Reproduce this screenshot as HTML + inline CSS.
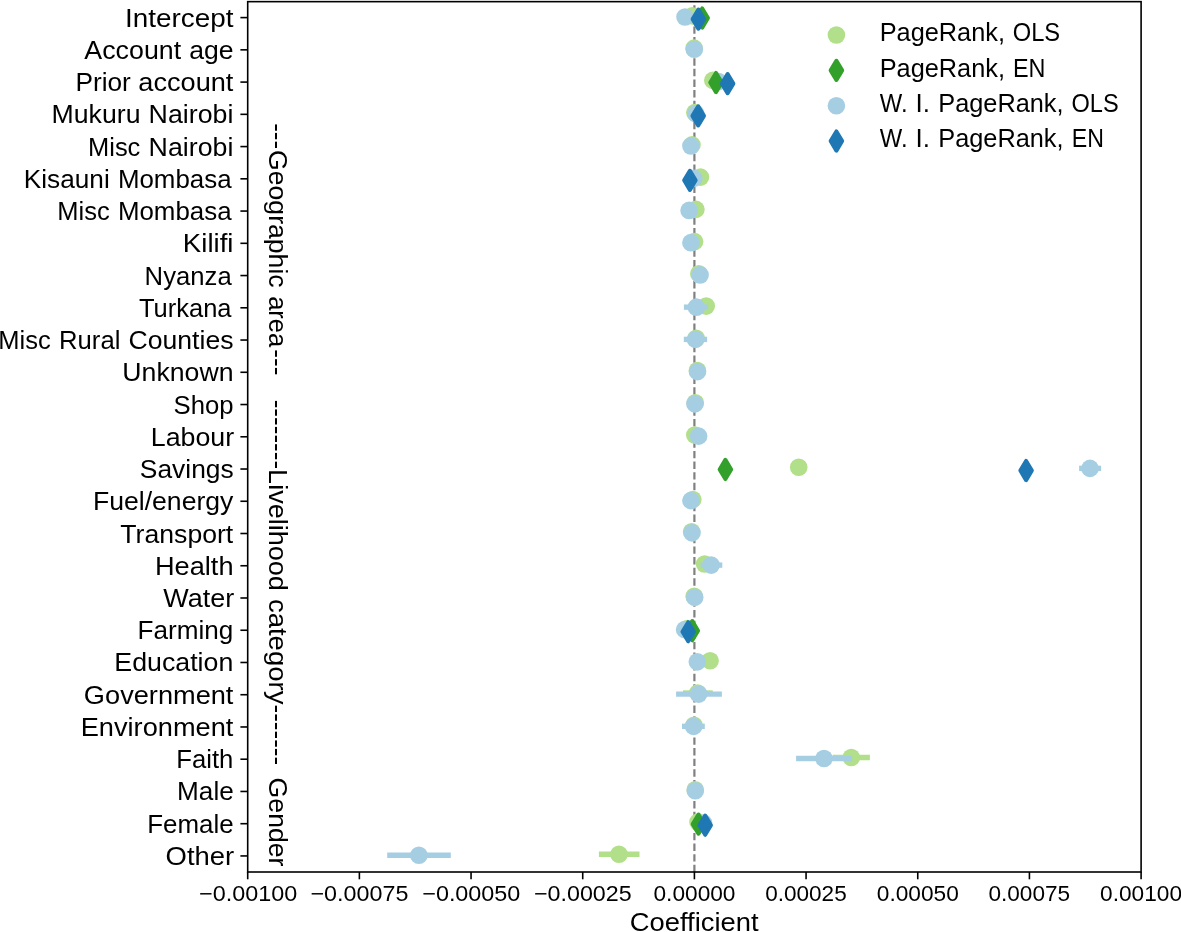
<!DOCTYPE html>
<html lang="en"><head><meta charset="utf-8"><title>Coefficient plot</title>
<style>html,body{margin:0;padding:0;background:#fff}body{width:1181px;height:932px;overflow:hidden}svg{display:block;will-change:transform}text{font-family:"Liberation Sans",sans-serif;fill:#000}</style></head><body>
<svg width="1181" height="932" viewBox="0 0 1181 932">
<rect x="0" y="0" width="1181" height="932" fill="#fff"/>
<line x1="694.40" y1="1.65" x2="694.40" y2="872.0" stroke="#808080" stroke-width="2.2" stroke-dasharray="7.4 3.212" stroke-dashoffset="7.06"/>
<g id="data">
<circle cx="692.30" cy="15.89" r="8.8" fill="#b2df8a"/>
<circle cx="694.10" cy="48.13" r="8.8" fill="#b2df8a"/>
<circle cx="712.80" cy="80.38" r="8.8" fill="#b2df8a"/>
<circle cx="694.80" cy="112.62" r="8.8" fill="#b2df8a"/>
<circle cx="692.00" cy="144.87" r="8.8" fill="#b2df8a"/>
<circle cx="700.50" cy="177.11" r="8.8" fill="#b2df8a"/>
<circle cx="695.90" cy="209.35" r="8.8" fill="#b2df8a"/>
<circle cx="694.60" cy="241.60" r="8.8" fill="#b2df8a"/>
<circle cx="698.80" cy="273.84" r="8.8" fill="#b2df8a"/>
<circle cx="706.20" cy="306.09" r="8.8" fill="#b2df8a"/>
<circle cx="696.20" cy="338.33" r="8.8" fill="#b2df8a"/>
<circle cx="697.40" cy="370.57" r="8.8" fill="#b2df8a"/>
<circle cx="695.30" cy="402.82" r="8.8" fill="#b2df8a"/>
<circle cx="694.80" cy="435.06" r="8.8" fill="#b2df8a"/>
<circle cx="798.70" cy="467.31" r="8.8" fill="#b2df8a"/>
<circle cx="692.80" cy="499.55" r="8.8" fill="#b2df8a"/>
<circle cx="691.60" cy="531.79" r="8.8" fill="#b2df8a"/>
<circle cx="704.60" cy="564.04" r="8.8" fill="#b2df8a"/>
<circle cx="694.20" cy="596.28" r="8.8" fill="#b2df8a"/>
<circle cx="687.50" cy="628.53" r="8.8" fill="#b2df8a"/>
<circle cx="710.10" cy="660.77" r="8.8" fill="#b2df8a"/>
<line x1="683.00" y1="693.01" x2="712.80" y2="693.01" stroke="#b2df8a" stroke-width="5.4"/>
<circle cx="697.70" cy="693.01" r="8.8" fill="#b2df8a"/>
<circle cx="694.00" cy="725.26" r="8.8" fill="#b2df8a"/>
<line x1="832.70" y1="757.50" x2="869.90" y2="757.50" stroke="#b2df8a" stroke-width="5.4"/>
<circle cx="851.30" cy="757.50" r="8.8" fill="#b2df8a"/>
<circle cx="695.20" cy="789.75" r="8.8" fill="#b2df8a"/>
<circle cx="698.00" cy="821.99" r="8.8" fill="#b2df8a"/>
<line x1="598.90" y1="854.23" x2="639.50" y2="854.23" stroke="#b2df8a" stroke-width="5.4"/>
<circle cx="619.00" cy="854.23" r="8.8" fill="#b2df8a"/>
<circle cx="685.00" cy="16.96" r="8.8" fill="#a6cee3"/>
<circle cx="694.30" cy="49.20" r="8.8" fill="#a6cee3"/>
<circle cx="718.50" cy="81.45" r="8.8" fill="#a6cee3"/>
<circle cx="695.80" cy="113.69" r="8.8" fill="#a6cee3"/>
<circle cx="690.90" cy="145.94" r="8.8" fill="#a6cee3"/>
<circle cx="693.80" cy="178.18" r="8.8" fill="#a6cee3"/>
<circle cx="689.10" cy="210.42" r="8.8" fill="#a6cee3"/>
<circle cx="690.90" cy="242.67" r="8.8" fill="#a6cee3"/>
<circle cx="700.10" cy="274.91" r="8.8" fill="#a6cee3"/>
<line x1="683.90" y1="307.16" x2="708.10" y2="307.16" stroke="#a6cee3" stroke-width="5.4"/>
<circle cx="696.40" cy="307.16" r="8.8" fill="#a6cee3"/>
<line x1="683.80" y1="339.40" x2="707.10" y2="339.40" stroke="#a6cee3" stroke-width="5.4"/>
<circle cx="695.50" cy="339.40" r="8.8" fill="#a6cee3"/>
<circle cx="697.50" cy="371.64" r="8.8" fill="#a6cee3"/>
<circle cx="694.90" cy="403.89" r="8.8" fill="#a6cee3"/>
<circle cx="698.60" cy="436.13" r="8.8" fill="#a6cee3"/>
<line x1="1079.10" y1="468.38" x2="1101.10" y2="468.38" stroke="#a6cee3" stroke-width="5.4"/>
<circle cx="1090.00" cy="468.38" r="8.8" fill="#a6cee3"/>
<circle cx="690.90" cy="500.62" r="8.8" fill="#a6cee3"/>
<circle cx="692.00" cy="532.86" r="8.8" fill="#a6cee3"/>
<line x1="700.60" y1="565.11" x2="722.30" y2="565.11" stroke="#a6cee3" stroke-width="5.4"/>
<circle cx="711.20" cy="565.11" r="8.8" fill="#a6cee3"/>
<circle cx="694.70" cy="597.35" r="8.8" fill="#a6cee3"/>
<circle cx="684.60" cy="629.60" r="8.8" fill="#a6cee3"/>
<circle cx="697.30" cy="661.84" r="8.8" fill="#a6cee3"/>
<line x1="676.10" y1="694.08" x2="721.90" y2="694.08" stroke="#a6cee3" stroke-width="5.4"/>
<circle cx="698.70" cy="694.08" r="8.8" fill="#a6cee3"/>
<line x1="682.00" y1="726.33" x2="704.80" y2="726.33" stroke="#a6cee3" stroke-width="5.4"/>
<circle cx="693.60" cy="726.33" r="8.8" fill="#a6cee3"/>
<line x1="796.10" y1="758.57" x2="852.10" y2="758.57" stroke="#a6cee3" stroke-width="5.4"/>
<circle cx="824.00" cy="758.57" r="8.8" fill="#a6cee3"/>
<circle cx="695.30" cy="790.82" r="8.8" fill="#a6cee3"/>
<circle cx="703.50" cy="823.06" r="8.8" fill="#a6cee3"/>
<line x1="387.20" y1="855.30" x2="450.80" y2="855.30" stroke="#a6cee3" stroke-width="5.4"/>
<circle cx="418.90" cy="855.30" r="8.8" fill="#a6cee3"/>
<path d="M702.20 8.47L707.94 18.04L702.20 27.61L696.46 18.04Z" fill="#33a02c" stroke="#33a02c" stroke-width="4.05" stroke-linejoin="round"/>
<path d="M716.00 72.96L721.74 82.53L716.00 92.10L710.26 82.53Z" fill="#33a02c" stroke="#33a02c" stroke-width="4.05" stroke-linejoin="round"/>
<path d="M725.40 459.89L731.14 469.46L725.40 479.03L719.66 469.46Z" fill="#33a02c" stroke="#33a02c" stroke-width="4.05" stroke-linejoin="round"/>
<path d="M692.30 621.11L698.04 630.68L692.30 640.25L686.56 630.68Z" fill="#33a02c" stroke="#33a02c" stroke-width="4.05" stroke-linejoin="round"/>
<path d="M698.50 814.57L704.24 824.14L698.50 833.71L692.76 824.14Z" fill="#33a02c" stroke="#33a02c" stroke-width="4.05" stroke-linejoin="round"/>
<path d="M698.40 9.54L704.14 19.11L698.40 28.68L692.66 19.11Z" fill="#1f78b4" stroke="#1f78b4" stroke-width="4.05" stroke-linejoin="round"/>
<path d="M727.60 74.03L733.34 83.60L727.60 93.17L721.86 83.60Z" fill="#1f78b4" stroke="#1f78b4" stroke-width="4.05" stroke-linejoin="round"/>
<path d="M698.20 106.27L703.94 115.84L698.20 125.41L692.46 115.84Z" fill="#1f78b4" stroke="#1f78b4" stroke-width="4.05" stroke-linejoin="round"/>
<path d="M689.90 170.76L695.64 180.33L689.90 189.90L684.16 180.33Z" fill="#1f78b4" stroke="#1f78b4" stroke-width="4.05" stroke-linejoin="round"/>
<path d="M1026.10 460.96L1031.84 470.53L1026.10 480.10L1020.36 470.53Z" fill="#1f78b4" stroke="#1f78b4" stroke-width="4.05" stroke-linejoin="round"/>
<path d="M688.20 622.18L693.94 631.75L688.20 641.32L682.46 631.75Z" fill="#1f78b4" stroke="#1f78b4" stroke-width="4.05" stroke-linejoin="round"/>
<path d="M705.20 815.64L710.94 825.21L705.20 834.78L699.46 825.21Z" fill="#1f78b4" stroke="#1f78b4" stroke-width="4.05" stroke-linejoin="round"/>
</g>
<rect x="247.70" y="1.65" width="893.40" height="870.35" fill="none" stroke="#000" stroke-width="1.6"/>
<g id="yaxis">
<line x1="240.40" y1="17.60" x2="247.70" y2="17.60" stroke="#000" stroke-width="1.6"/>
<text id="yl0_0" x="125.07" y="27.00" font-size="25.08" textLength="108.34" lengthAdjust="spacingAndGlyphs">Intercept</text>
<line x1="240.40" y1="49.84" x2="247.70" y2="49.84" stroke="#000" stroke-width="1.6"/>
<text id="yl1_0" x="84.33" y="59.00" font-size="25.08" textLength="96.81" lengthAdjust="spacingAndGlyphs">Account</text><text id="yl1_1" x="189.24" y="59.00" font-size="25.08" textLength="44.37" lengthAdjust="spacingAndGlyphs">age</text>
<line x1="240.40" y1="82.09" x2="247.70" y2="82.09" stroke="#000" stroke-width="1.6"/>
<text id="yl2_0" x="75.44" y="91.00" font-size="25.08" textLength="55.40" lengthAdjust="spacingAndGlyphs">Prior</text><text id="yl2_1" x="138.30" y="91.00" font-size="25.08" textLength="95.12" lengthAdjust="spacingAndGlyphs">account</text>
<line x1="240.40" y1="114.33" x2="247.70" y2="114.33" stroke="#000" stroke-width="1.6"/>
<text id="yl3_0" x="51.55" y="123.00" font-size="25.08" textLength="88.91" lengthAdjust="spacingAndGlyphs">Mukuru</text><text id="yl3_1" x="148.63" y="123.00" font-size="25.08" textLength="84.73" lengthAdjust="spacingAndGlyphs">Nairobi</text>
<line x1="240.40" y1="146.58" x2="247.70" y2="146.58" stroke="#000" stroke-width="1.6"/>
<text id="yl4_0" x="88.03" y="156.00" font-size="25.08" textLength="52.33" lengthAdjust="spacingAndGlyphs">Misc</text><text id="yl4_1" x="148.63" y="156.00" font-size="25.08" textLength="84.73" lengthAdjust="spacingAndGlyphs">Nairobi</text>
<line x1="240.40" y1="178.82" x2="247.70" y2="178.82" stroke="#000" stroke-width="1.6"/>
<text id="yl5_0" x="23.77" y="188.00" font-size="25.08" textLength="85.96" lengthAdjust="spacingAndGlyphs">Kisauni</text><text id="yl5_1" x="117.92" y="188.00" font-size="25.08" textLength="113.67" lengthAdjust="spacingAndGlyphs">Mombasa</text>
<line x1="240.40" y1="211.06" x2="247.70" y2="211.06" stroke="#000" stroke-width="1.6"/>
<text id="yl6_0" x="57.26" y="220.00" font-size="25.08" textLength="52.44" lengthAdjust="spacingAndGlyphs">Misc</text><text id="yl6_1" x="117.91" y="220.00" font-size="25.08" textLength="113.67" lengthAdjust="spacingAndGlyphs">Mombasa</text>
<line x1="240.40" y1="243.31" x2="247.70" y2="243.31" stroke="#000" stroke-width="1.6"/>
<text id="yl7_0" x="182.88" y="252.00" font-size="25.08" textLength="50.59" lengthAdjust="spacingAndGlyphs">Kilifi</text>
<line x1="240.40" y1="275.55" x2="247.70" y2="275.55" stroke="#000" stroke-width="1.6"/>
<text id="yl8_0" x="144.63" y="285.00" font-size="25.08" textLength="87.04" lengthAdjust="spacingAndGlyphs">Nyanza</text>
<line x1="240.40" y1="307.80" x2="247.70" y2="307.80" stroke="#000" stroke-width="1.6"/>
<text id="yl9_0" x="138.96" y="317.00" font-size="25.08" textLength="92.59" lengthAdjust="spacingAndGlyphs">Turkana</text>
<line x1="240.40" y1="340.04" x2="247.70" y2="340.04" stroke="#000" stroke-width="1.6"/>
<text id="yl10_0" x="-1.76" y="349.00" font-size="25.08" textLength="52.45" lengthAdjust="spacingAndGlyphs">Misc</text><text id="yl10_1" x="59.05" y="349.00" font-size="25.08" textLength="61.37" lengthAdjust="spacingAndGlyphs">Rural</text><text id="yl10_2" x="128.53" y="349.00" font-size="25.08" textLength="104.99" lengthAdjust="spacingAndGlyphs">Counties</text>
<line x1="240.40" y1="372.28" x2="247.70" y2="372.28" stroke="#000" stroke-width="1.6"/>
<text id="yl11_0" x="122.35" y="381.00" font-size="25.08" textLength="111.15" lengthAdjust="spacingAndGlyphs">Unknown</text>
<line x1="240.40" y1="404.53" x2="247.70" y2="404.53" stroke="#000" stroke-width="1.6"/>
<text id="yl12_0" x="173.60" y="414.00" font-size="25.08" textLength="60.00" lengthAdjust="spacingAndGlyphs">Shop</text>
<line x1="240.40" y1="436.77" x2="247.70" y2="436.77" stroke="#000" stroke-width="1.6"/>
<text id="yl13_0" x="150.78" y="446.00" font-size="25.08" textLength="83.40" lengthAdjust="spacingAndGlyphs">Labour</text>
<line x1="240.40" y1="469.02" x2="247.70" y2="469.02" stroke="#000" stroke-width="1.6"/>
<text id="yl14_0" x="139.86" y="478.00" font-size="25.08" textLength="93.83" lengthAdjust="spacingAndGlyphs">Savings</text>
<line x1="240.40" y1="501.26" x2="247.70" y2="501.26" stroke="#000" stroke-width="1.6"/>
<text id="yl15_0" x="92.95" y="510.00" font-size="25.08" textLength="140.43" lengthAdjust="spacingAndGlyphs">Fuel/energy</text>
<line x1="240.40" y1="533.50" x2="247.70" y2="533.50" stroke="#000" stroke-width="1.6"/>
<text id="yl16_0" x="120.34" y="543.00" font-size="25.08" textLength="112.93" lengthAdjust="spacingAndGlyphs">Transport</text>
<line x1="240.40" y1="565.75" x2="247.70" y2="565.75" stroke="#000" stroke-width="1.6"/>
<text id="yl17_0" x="154.92" y="575.00" font-size="25.08" textLength="78.62" lengthAdjust="spacingAndGlyphs">Health</text>
<line x1="240.40" y1="597.99" x2="247.70" y2="597.99" stroke="#000" stroke-width="1.6"/>
<text id="yl18_0" x="163.19" y="607.00" font-size="25.08" textLength="70.93" lengthAdjust="spacingAndGlyphs">Water</text>
<line x1="240.40" y1="630.24" x2="247.70" y2="630.24" stroke="#000" stroke-width="1.6"/>
<text id="yl19_0" x="137.57" y="639.00" font-size="25.08" textLength="95.76" lengthAdjust="spacingAndGlyphs">Farming</text>
<line x1="240.40" y1="662.48" x2="247.70" y2="662.48" stroke="#000" stroke-width="1.6"/>
<text id="yl20_0" x="114.38" y="671.00" font-size="25.08" textLength="118.93" lengthAdjust="spacingAndGlyphs">Education</text>
<line x1="240.40" y1="694.72" x2="247.70" y2="694.72" stroke="#000" stroke-width="1.6"/>
<text id="yl21_0" x="83.89" y="704.00" font-size="25.08" textLength="149.54" lengthAdjust="spacingAndGlyphs">Government</text>
<line x1="240.40" y1="726.97" x2="247.70" y2="726.97" stroke="#000" stroke-width="1.6"/>
<text id="yl22_0" x="80.72" y="736.00" font-size="25.08" textLength="152.64" lengthAdjust="spacingAndGlyphs">Environment</text>
<line x1="240.40" y1="759.21" x2="247.70" y2="759.21" stroke="#000" stroke-width="1.6"/>
<text id="yl23_0" x="176.28" y="768.00" font-size="25.08" textLength="57.07" lengthAdjust="spacingAndGlyphs">Faith</text>
<line x1="240.40" y1="791.46" x2="247.70" y2="791.46" stroke="#000" stroke-width="1.6"/>
<text id="yl24_0" x="177.10" y="800.00" font-size="25.08" textLength="56.66" lengthAdjust="spacingAndGlyphs">Male</text>
<line x1="240.40" y1="823.70" x2="247.70" y2="823.70" stroke="#000" stroke-width="1.6"/>
<text id="yl25_0" x="147.24" y="833.00" font-size="25.08" textLength="86.38" lengthAdjust="spacingAndGlyphs">Female</text>
<line x1="240.40" y1="855.94" x2="247.70" y2="855.94" stroke="#000" stroke-width="1.6"/>
<text id="yl26_0" x="165.60" y="865.00" font-size="25.08" textLength="68.63" lengthAdjust="spacingAndGlyphs">Other</text>
</g><g id="xaxis">
<line x1="247.70" y1="872.00" x2="247.70" y2="879.30" stroke="#000" stroke-width="1.6"/>
<text id="xl0_0" x="199.06" y="901.15" font-size="21.20" textLength="98.14" lengthAdjust="spacingAndGlyphs">−0.00100</text>
<line x1="359.38" y1="872.00" x2="359.38" y2="879.30" stroke="#000" stroke-width="1.6"/>
<text id="xl1_0" x="310.51" y="901.15" font-size="21.20" textLength="97.87" lengthAdjust="spacingAndGlyphs">−0.00075</text>
<line x1="471.05" y1="872.00" x2="471.05" y2="879.30" stroke="#000" stroke-width="1.6"/>
<text id="xl2_0" x="422.24" y="901.15" font-size="21.20" textLength="98.14" lengthAdjust="spacingAndGlyphs">−0.00050</text>
<line x1="582.72" y1="872.00" x2="582.72" y2="879.30" stroke="#000" stroke-width="1.6"/>
<text id="xl3_0" x="534.03" y="901.15" font-size="21.20" textLength="97.67" lengthAdjust="spacingAndGlyphs">−0.00025</text>
<line x1="694.40" y1="872.00" x2="694.40" y2="879.30" stroke="#000" stroke-width="1.6"/>
<text id="xl4_0" x="653.48" y="901.15" font-size="21.20" textLength="82.02" lengthAdjust="spacingAndGlyphs">0.00000</text>
<line x1="806.07" y1="872.00" x2="806.07" y2="879.30" stroke="#000" stroke-width="1.6"/>
<text id="xl5_0" x="765.17" y="901.15" font-size="21.20" textLength="81.52" lengthAdjust="spacingAndGlyphs">0.00025</text>
<line x1="917.75" y1="872.00" x2="917.75" y2="879.30" stroke="#000" stroke-width="1.6"/>
<text id="xl6_0" x="876.82" y="901.15" font-size="21.20" textLength="82.02" lengthAdjust="spacingAndGlyphs">0.00050</text>
<line x1="1029.42" y1="872.00" x2="1029.42" y2="879.30" stroke="#000" stroke-width="1.6"/>
<text id="xl7_0" x="988.46" y="901.15" font-size="21.20" textLength="81.67" lengthAdjust="spacingAndGlyphs">0.00075</text>
<line x1="1141.10" y1="872.00" x2="1141.10" y2="879.30" stroke="#000" stroke-width="1.6"/>
<text id="xl8_0" x="1100.08" y="901.15" font-size="21.20" textLength="82.00" lengthAdjust="spacingAndGlyphs">0.00100</text>
<text id="xlab_0" x="629.81" y="931.00" font-size="25.44" textLength="128.78" lengthAdjust="spacingAndGlyphs">Coefficient</text>
</g><g id="annot">
<text id="an0_0" transform="translate(269.00,123.17) rotate(90)" font-size="25.08" textLength="26.07" lengthAdjust="spacingAndGlyphs">---</text><text id="an0_1" transform="translate(269.00,150.05) rotate(90)" font-size="25.08" textLength="137.58" lengthAdjust="spacingAndGlyphs">Geographic</text><text id="an0_2" transform="translate(269.00,296.18) rotate(90)" font-size="25.08" textLength="51.07" lengthAdjust="spacingAndGlyphs">area</text><text id="an0_3" transform="translate(269.00,349.29) rotate(90)" font-size="25.08" textLength="26.19" lengthAdjust="spacingAndGlyphs">---</text>
<text id="an1_0" transform="translate(269.00,399.68) rotate(90)" font-size="25.08" textLength="69.43" lengthAdjust="spacingAndGlyphs">--------</text><text id="an1_1" transform="translate(269.00,469.12) rotate(90)" font-size="25.08" textLength="121.70" lengthAdjust="spacingAndGlyphs">Livelihood</text><text id="an1_2" transform="translate(269.00,598.92) rotate(90)" font-size="25.08" textLength="105.53" lengthAdjust="spacingAndGlyphs">category</text><text id="an1_3" transform="translate(269.00,704.46) rotate(90)" font-size="25.08" textLength="60.77" lengthAdjust="spacingAndGlyphs">-------</text>
<text id="an2_0" transform="translate(269.00,777.60) rotate(90)" font-size="25.08" textLength="88.87" lengthAdjust="spacingAndGlyphs">Gender</text>
</g><g id="legend">
<circle cx="836.40" cy="35.00" r="8.8" fill="#b2df8a"/>
<text id="lg0_0" x="879.66" y="41.30" font-size="25.08" textLength="125.34" lengthAdjust="spacingAndGlyphs">PageRank,</text><text id="lg0_1" x="1012.77" y="41.30" font-size="25.08" textLength="47.38" lengthAdjust="spacingAndGlyphs">OLS</text>
<path d="M836.40 60.78L842.14 70.35L836.40 79.92L830.66 70.35Z" fill="#33a02c" stroke="#33a02c" stroke-width="4.05" stroke-linejoin="round"/>
<text id="lg1_0" x="879.66" y="76.60" font-size="25.08" textLength="125.34" lengthAdjust="spacingAndGlyphs">PageRank,</text><text id="lg1_1" x="1013.04" y="76.60" font-size="25.08" textLength="32.48" lengthAdjust="spacingAndGlyphs">EN</text>
<circle cx="836.40" cy="105.70" r="8.8" fill="#a6cee3"/>
<text id="lg2_0" x="879.85" y="111.90" font-size="25.08" textLength="27.77" lengthAdjust="spacingAndGlyphs">W.</text><text id="lg2_1" x="915.59" y="111.90" font-size="25.08" textLength="14.45" lengthAdjust="spacingAndGlyphs">I.</text><text id="lg2_2" x="938.28" y="111.90" font-size="25.08" textLength="125.32" lengthAdjust="spacingAndGlyphs">PageRank,</text><text id="lg2_3" x="1071.49" y="111.90" font-size="25.08" textLength="47.16" lengthAdjust="spacingAndGlyphs">OLS</text>
<path d="M836.40 131.48L842.14 141.05L836.40 150.62L830.66 141.05Z" fill="#1f78b4" stroke="#1f78b4" stroke-width="4.05" stroke-linejoin="round"/>
<text id="lg3_0" x="879.85" y="147.20" font-size="25.08" textLength="27.77" lengthAdjust="spacingAndGlyphs">W.</text><text id="lg3_1" x="915.59" y="147.20" font-size="25.08" textLength="14.45" lengthAdjust="spacingAndGlyphs">I.</text><text id="lg3_2" x="938.28" y="147.20" font-size="25.08" textLength="125.32" lengthAdjust="spacingAndGlyphs">PageRank,</text><text id="lg3_3" x="1071.75" y="147.20" font-size="25.08" textLength="32.17" lengthAdjust="spacingAndGlyphs">EN</text>
</g></svg></body></html>
